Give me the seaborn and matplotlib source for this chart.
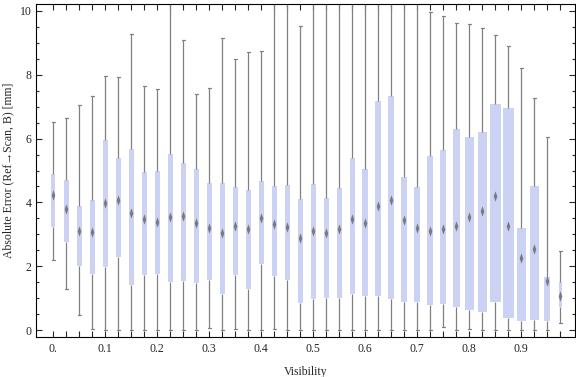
import numpy as np
import pandas as pd
import seaborn as sns
import matplotlib.pyplot as plt
from matplotlib.path import Path
from matplotlib.ticker import FixedLocator, MultipleLocator

# visibility bins (one box each)
vis = [0.0, 0.025, 0.05, 0.075, 0.1, 0.125, 0.15, 0.175, 0.2, 0.225,
       0.25, 0.275, 0.3, 0.325, 0.35, 0.375, 0.4, 0.425, 0.45, 0.475,
       0.5, 0.525, 0.55, 0.575, 0.6, 0.625, 0.65, 0.675, 0.7, 0.725,
       0.75, 0.775, 0.8, 0.825, 0.85, 0.875, 0.9, 0.925, 0.95, 0.975]

# five-number summaries [mm]
lo = [2.19, 1.29, 0.47, 0.05, 0.00, 0.00, 0.00, 0.00, 0.00, 0.00,
      0.00, 0.00, 0.08, 0.00, 0.05, 0.00, 0.00, 0.05, 0.00, 0.00,
      0.00, 0.00, 0.00, 0.00, 0.00, 0.00, 0.00, 0.00, 0.00, 0.00,
      0.10, 0.00, 0.03, 0.00, 0.00, 0.00, 0.00, 0.00, 0.00, 0.22]
q1 = [3.24, 2.75, 2.02, 1.76, 1.99, 2.30, 1.41, 1.72, 1.76, 1.50,
      1.54, 1.47, 1.57, 1.13, 1.72, 1.30, 2.08, 1.70, 1.58, 0.86,
      0.98, 1.01, 1.01, 1.13, 1.08, 1.06, 0.98, 0.88, 0.88, 0.79,
      0.83, 0.73, 0.65, 0.57, 0.89, 0.39, 0.30, 0.33, 0.30, 0.73]
med = [4.23, 3.81, 3.11, 3.06, 3.97, 4.08, 3.66, 3.48, 3.40, 3.55,
       3.58, 3.35, 3.19, 3.03, 3.26, 3.18, 3.50, 3.33, 3.24, 2.88,
       3.11, 3.05, 3.18, 3.48, 3.36, 3.89, 4.08, 3.45, 3.20, 3.10,
       3.17, 3.26, 3.55, 3.72, 4.20, 3.27, 2.27, 2.55, 1.54, 1.08]
q3 = [4.89, 4.69, 3.89, 4.08, 5.95, 5.39, 5.66, 4.95, 4.97, 5.52,
      5.24, 5.05, 4.61, 4.61, 4.48, 4.39, 4.67, 4.51, 4.54, 4.11,
      4.58, 4.14, 4.45, 5.39, 5.04, 7.18, 7.33, 4.80, 4.48, 5.45,
      5.64, 6.30, 6.05, 6.21, 7.08, 6.96, 3.20, 4.51, 1.67, 1.50]
hi = [6.51, 6.64, 7.04, 7.33, 7.95, 7.92, 9.27, 7.63, 7.54, 10.40,
      9.08, 7.38, 7.58, 9.16, 8.48, 8.70, 8.74, 10.50, 10.50, 9.52,
      10.50, 10.23, 10.50, 10.50, 10.50, 10.50, 10.50, 10.29, 10.24, 9.95,
      9.83, 9.61, 9.59, 9.46, 9.25, 8.89, 8.20, 7.26, 6.05, 2.47]

tick_pos = [0, 4, 8, 12, 16, 20, 24, 28, 32, 36]
tick_lab = ["0.", "0.1", "0.2", "0.3", "0.4", "0.5", "0.6", "0.7", "0.8", "0.9"]

# drawn box widths in pixels (box spacing is ~12.9 px)
box_px = [3.7, 5, 5, 5, 5.3, 5.3, 4.7, 4.7, 4.7, 4.7,
          4.7, 4.7, 4.7, 5, 5, 5, 5, 5, 5, 5,
          5, 5.3, 5, 5, 6, 5.7, 6, 6, 6.3, 6,
          6.3, 7, 9.3, 9.3, 11, 11, 8.7, 8.7, 6, 3]

rows = []
for i, v in enumerate(vis):
    for val in (lo[i], q1[i], med[i], q3[i], hi[i]):
        rows.append({"vis": v, "err": val})
df = pd.DataFrame(rows)

sns.set_style("ticks")
plt.rcParams["font.family"] = ["Liberation Serif", "DejaVu Serif"]
plt.rcParams["font.size"] = 8.5

box_col = "#ccd2f4"
line_col = "#808080"

fig = plt.figure(figsize=(5.76, 3.77), dpi=100)
ax = fig.add_axes([36 / 576, 40 / 377, 539 / 576, 333 / 377])

sns.boxplot(data=df, x="vis", y="err", order=vis, whis=(0, 100),
            width=0.39, color=box_col, saturation=1, linewidth=0.9,
            linecolor=line_col, showfliers=False,
            medianprops={"visible": False}, ax=ax)

for i, p in enumerate(ax.patches):
    v = p.get_path().vertices.copy()
    hw = box_px[i] / 12.92 / 2
    v[:, 0] = np.where(v[:, 0] < i, i - hw, i + hw)
    p.set_path(Path(v, p.get_path().codes))
    p.set_edgecolor("none")
    p.set_facecolor(box_col)
    p.set_zorder(2)

diamond = [(0, 1), (0.35, 0), (0, -1), (-0.35, 0), (0, 1)]
sns.stripplot(x=vis, y=med, order=vis, jitter=False, marker=diamond,
              size=7.5, color="#6c6c6c", alpha=0.85, linewidth=0,
              zorder=4, ax=ax)

ax.set_xlim(-1.33, 40.13)
ax.set_ylim(-0.21, 10.21)

ax.xaxis.set_major_locator(FixedLocator(tick_pos))
ax.xaxis.set_minor_locator(FixedLocator(range(len(vis))))
ax.set_xticklabels(tick_lab)
ax.yaxis.set_major_locator(MultipleLocator(2))
ax.yaxis.set_minor_locator(MultipleLocator(0.5))

ax.tick_params(axis="x", which="both", direction="in", top=True, bottom=True,
               length=4, width=0.8, pad=4, labelsize=8.5)
ax.tick_params(axis="y", which="major", direction="in", left=True, right=True,
               length=4.5, width=0.8, pad=3, labelsize=8.5)
ax.tick_params(axis="y", which="minor", direction="in", left=True, right=True,
               length=2.5, width=0.8)

for s in ax.spines.values():
    s.set_visible(True)
    s.set_color("black")
    s.set_linewidth(0.8)

ax.set_xlabel("Visibility", labelpad=8)
ax.set_ylabel("Absolute Error (Ref\u2192Scan, B) [mm]", labelpad=4)

fig.savefig("out.png", dpi=100)
